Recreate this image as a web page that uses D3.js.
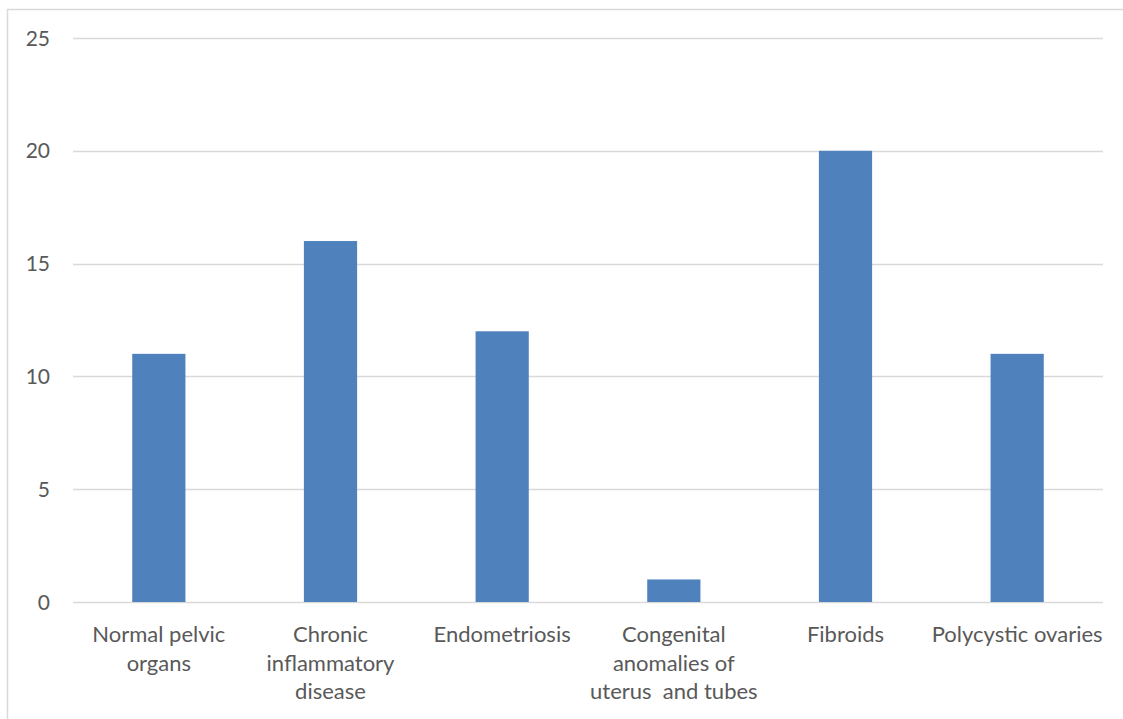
<!DOCTYPE html>
<html>
<head>
<meta charset="utf-8">
<script src="https://cdn.jsdelivr.net/npm/d3@7"></script>
<style>
  html, body { margin: 0; padding: 0; background: #fff; }
  svg { display: block; }
  text { font-family: Lato, "Noto Sans", sans-serif; fill: #595959; }
</style>
</head>
<body>
<svg id="chart" width="1123" height="719"></svg>
<script>
// Findings by category (count of patients)
const categories = [
  "Normal pelvic organs",
  "Chronic inflammatory disease",
  "Endometriosis",
  "Congenital anomalies of uterus  and tubes",
  "Fibroids",
  "Polycystic ovaries"
];
// Category labels split into the lines they are shown on
const categoryLines = [
  ["Normal pelvic", "organs"],
  ["Chronic", "inflammatory", "disease"],
  ["Endometriosis"],
  ["Congenital", "anomalies of", "uterus\u00a0 and tubes"],
  ["Fibroids"],
  ["Polycystic ovaries"]
];
const values = [11, 16, 12, 1, 20, 11];
const yTicks = [0, 5, 10, 15, 20, 25];

const svg = d3.select("#chart");
const W = 1123, H = 719;

// Outer chart frame
svg.append("rect")
  .attr("x", 7.5).attr("y", 9.5)
  .attr("width", W + 10).attr("height", H + 10)
  .attr("fill", "none").attr("stroke", "#d9d9d9").attr("stroke-width", 1.5);

const margin = { left: 73, right: 20, top: 38, bottom: 117 };
const plotW = W - margin.left - margin.right;
const plotH = H - margin.top - margin.bottom;

const x = d3.scaleBand()
  .domain(categories)
  .range([margin.left, margin.left + plotW])
  .paddingInner(0.69)
  .paddingOuter(0.345);

const y = d3.scaleLinear()
  .domain([0, 25])
  .range([margin.top + plotH, margin.top]);

// Horizontal gridlines
svg.append("g")
  .selectAll("line")
  .data(yTicks)
  .join("line")
  .attr("x1", margin.left).attr("x2", margin.left + plotW)
  .attr("y1", d => Math.round(y(d)) + 0.5).attr("y2", d => Math.round(y(d)) + 0.5)
  .attr("stroke", "#d9d9d9").attr("stroke-width", 1.5);

// Y-axis tick labels
svg.append("g")
  .selectAll("text")
  .data(yTicks)
  .join("text")
  .attr("x", 50)
  .attr("y", d => y(d))
  .attr("dy", "0.36em")
  .attr("text-anchor", "end")
  .attr("font-size", 21)
  .text(d => d);

// Bars
svg.append("g")
  .selectAll("rect")
  .data(values)
  .join("rect")
  .attr("x", (d, i) => x(categories[i]))
  .attr("width", x.bandwidth())
  .attr("y", d => y(d))
  .attr("height", d => y(0) - y(d))
  .attr("fill", "#4f81bd");

// Category labels under the axis
const labels = svg.append("g")
  .selectAll("text")
  .data(categories)
  .join("text")
  .attr("text-anchor", "middle")
  .attr("font-size", 22)
  .attr("x", d => x(d) + x.bandwidth() / 2)
  .attr("y", y(0) + 40);

labels.each(function(d, i) {
  const t = d3.select(this);
  categoryLines[i].forEach((line, j) => {
    t.append("tspan")
      .attr("x", x(d) + x.bandwidth() / 2)
      .attr("dy", j === 0 ? 0 : 28.5)
      .text(line);
  });
});
</script>
</body>
</html>
